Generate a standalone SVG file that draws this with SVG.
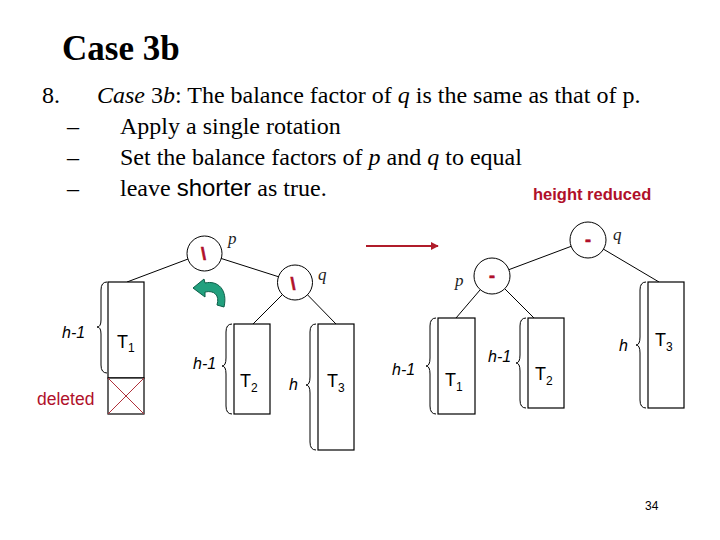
<svg xmlns="http://www.w3.org/2000/svg" width="720" height="540" viewBox="0 0 720 540">
<defs>
<style>
.serif{font-family:"Liberation Serif","Times New Roman",serif;fill:#000}
.sans{font-family:"Liberation Sans",Arial,sans-serif;fill:#000}
.lbl{font-family:"Liberation Serif","Times New Roman",serif;font-style:italic;font-size:17px;fill:#222}
.h{font-family:"Liberation Sans",Arial,sans-serif;font-style:italic;font-size:16px;fill:#000}
.T{font-family:"Liberation Sans",Arial,sans-serif;font-size:18px;fill:#000}
.sub{font-size:12px}
.bf{font-family:"Liberation Sans",Arial,sans-serif;font-weight:bold;font-size:18px;fill:#b0102a;stroke:#b0102a;stroke-width:0.6;text-anchor:middle}
.node{fill:#fff;stroke:#000;stroke-width:1}
.box{fill:#fff;stroke:#000;stroke-width:1.2}
.edge{stroke:#000;stroke-width:1;fill:none}
.brace{stroke:#000;stroke-width:1;fill:none}
</style>
<marker id="ah" viewBox="0 0 10 10" refX="9" refY="5" markerWidth="4" markerHeight="4" orient="auto" markerUnits="strokeWidth">
<path d="M0,0 L10,5 L0,10 Z" fill="#b01c2a"/>
</marker>
</defs>
<rect width="720" height="540" fill="#fff"/>

<g id="title">
<text class="serif" x="62" y="60" font-size="35" font-weight="bold">Case 3b</text>
<text class="serif" x="42" y="103" font-size="24">8.</text>
<text class="serif" x="97" y="103" font-size="24"><tspan font-style="italic">Case</tspan> 3<tspan font-style="italic">b</tspan>: The balance factor of <tspan font-style="italic">q</tspan> is the same as that of p.</text>
<text class="serif" x="67" y="134" font-size="24">–</text>
<text class="serif" x="120" y="134" font-size="24">Apply a single rotation</text>
<text class="serif" x="67" y="165" font-size="24">–</text>
<text class="serif" x="120" y="165" font-size="24">Set the balance factors of <tspan font-style="italic">p</tspan> and <tspan font-style="italic">q</tspan> to equal</text>
<text class="serif" x="67" y="196" font-size="24">–</text>
<text class="serif" x="120" y="196" font-size="24">leave <tspan font-family="Liberation Sans, Arial, sans-serif">shorter</tspan> as true.</text>
<text class="sans" x="533" y="200" font-size="16.5" font-weight="bold" style="fill:#b0102a">height reduced</text>
<text class="sans" x="645" y="510" font-size="12">34</text>
</g>

<g id="connectors">
<line class="edge" x1="204" y1="253" x2="127" y2="282"/>
<line class="edge" x1="204" y1="253" x2="295" y2="282"/>
<line class="edge" x1="295" y1="282" x2="253" y2="324"/>
<line class="edge" x1="295" y1="282" x2="336" y2="324"/>
<line class="edge" x1="588" y1="240" x2="492" y2="276"/>
<line class="edge" x1="588" y1="240" x2="659" y2="282"/>
<line class="edge" x1="492" y1="276" x2="456" y2="318"/>
<line class="edge" x1="492" y1="276" x2="534" y2="318"/>
<line x1="366" y1="246" x2="438" y2="246" stroke="#b01c2a" stroke-width="2" marker-end="url(#ah)"/>
</g>

<g id="rotation-arrow">
<path d="M193,288 L204,279 L205,283 C218,280 228,290 224,307 L217,305 C220,295 214,290 205,292 L205,297 Z" fill="#22a07e" stroke="#0b5e48" stroke-width="1"/>
</g>

<!-- left tree -->
<g id="L-p">
<circle class="node" cx="204.5" cy="253.5" r="17.5"/>
<text class="bf" x="203.5" y="260">\</text>
<text class="lbl" x="228" y="244">p</text>
</g>
<g id="L-q">
<circle class="node" cx="295" cy="282.5" r="17.5"/>
<text class="bf" x="293" y="290">\</text>
<text class="lbl" x="318" y="280">q</text>
</g>
<g id="L-T1">
<rect class="box" x="108" y="282" width="36" height="96"/>
<path class="brace" d="M107,282 Q101,282 101,290 L101,320 Q101,327 97,327 Q101,327 101,334 L101,365 Q101,373 107,373"/>
<text class="h" x="62" y="338">h-1</text>
<text class="T" x="117" y="348">T<tspan class="sub" dy="4">1</tspan></text>
</g>
<g id="L-deleted">
<rect x="108" y="378" width="36" height="36" fill="#fff" stroke="#000" stroke-width="1.2"/>
<path d="M108,378 L144,414 M144,378 L108,414" stroke="#b0303a" stroke-width="1" fill="none"/>
<text class="sans" x="37" y="405" font-size="17.5" style="fill:#b0102a">deleted</text>
</g>
<g id="L-T2">
<rect class="box" x="234" y="324" width="36" height="90"/>
<path class="brace" d="M232,324 Q226,324 226,332 L226,358 Q226,366 222,366 Q226,366 226,374 L226,406 Q226,414 232,414"/>
<text class="h" x="193" y="369">h-1</text>
<text class="T" x="240" y="387">T<tspan class="sub" dy="5">2</tspan></text>
</g>
<g id="L-T3">
<rect class="box" x="318" y="324" width="36" height="126"/>
<path class="brace" d="M316,324 Q310,324 310,332 L310,377 Q310,385 306,385 Q310,385 310,393 L310,442 Q310,450 316,450"/>
<text class="h" x="289" y="390">h</text>
<text class="T" x="327" y="387">T<tspan class="sub" dy="5">3</tspan></text>
</g>

<!-- right tree -->
<g id="R-q">
<circle class="node" cx="588" cy="240" r="18"/>
<text class="bf" x="588" y="246">-</text>
<text class="lbl" x="613" y="240">q</text>
</g>
<g id="R-p">
<circle class="node" cx="492" cy="276" r="18"/>
<text class="bf" x="492" y="282">-</text>
<text class="lbl" x="455" y="286">p</text>
</g>
<g id="R-T1">
<rect class="box" x="438" y="318" width="37" height="96"/>
<path class="brace" d="M436,318 Q430,318 430,326 L430,358 Q430,366 426,366 Q430,366 430,374 L430,406 Q430,414 436,414"/>
<text class="h" x="392" y="375">h-1</text>
<text class="T" x="445" y="386">T<tspan class="sub" dy="5">1</tspan></text>
</g>
<g id="R-T2">
<rect class="box" x="528" y="318" width="36" height="90"/>
<path class="brace" d="M526,318 Q520,318 520,326 L520,355 Q520,363 516,363 Q520,363 520,371 L520,400 Q520,408 526,408"/>
<text class="h" x="488" y="362">h-1</text>
<text class="T" x="535" y="380">T<tspan class="sub" dy="5">2</tspan></text>
</g>
<g id="R-T3">
<rect class="box" x="648" y="282" width="36" height="126"/>
<path class="brace" d="M646,282 Q640,282 640,290 L640,337 Q640,345 636,345 Q640,345 640,353 L640,400 Q640,408 646,408"/>
<text class="h" x="619" y="351">h</text>
<text class="T" x="655" y="346">T<tspan class="sub" dy="5">3</tspan></text>
</g>
</svg>
